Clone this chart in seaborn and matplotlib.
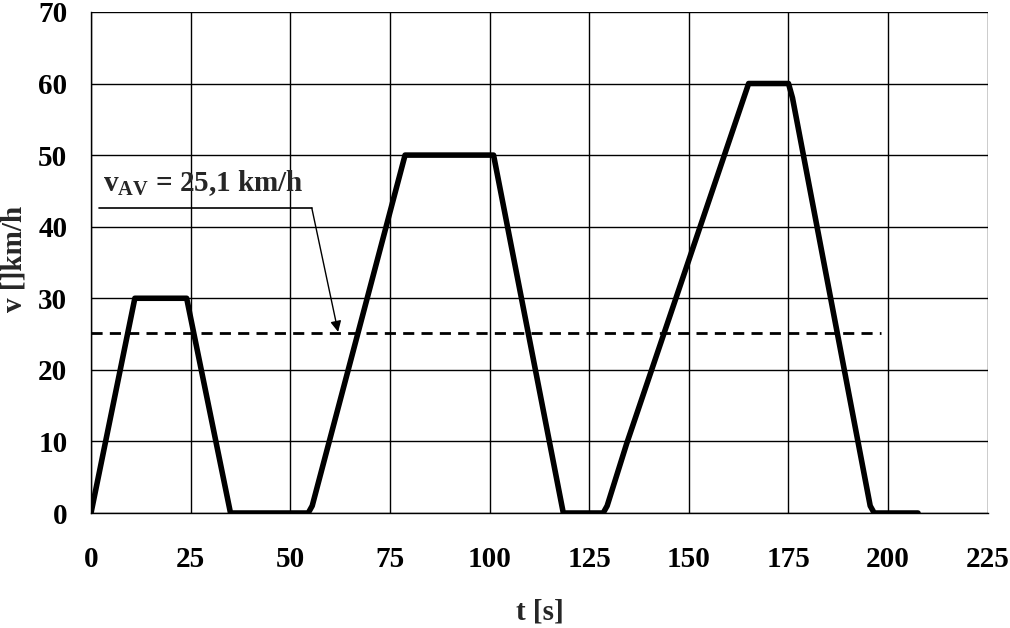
import matplotlib.pyplot as plt
import pandas as pd
import seaborn as sns

# speed profile
time_s = [0, 11, 24, 35, 54.5, 55.5, 78.8, 101, 118.5, 128.5, 129.5, 134.4,
          165, 175, 176, 195.5, 196.5, 207.5]
speed_kmh = [0, 30, 30, 0, 0, 1, 50, 50, 0, 0, 1, 9.7, 60, 60, 58, 1, 0, 0]

# average speed line
avg_time = [0, 198.3]
avg_speed = [25.1, 25.1]
avg_label = "25,1 km/h"

x_ticks = [0, 25, 50, 75, 100, 125, 150, 175, 200, 225]
y_ticks = [0, 10, 20, 30, 40, 50, 60, 70]

sns.set_style("white")
plt.rcParams["font.family"] = ["Liberation Serif", "DejaVu Serif"]
plt.rcParams["font.weight"] = "bold"
plt.rcParams["mathtext.fontset"] = "custom"
plt.rcParams["mathtext.rm"] = "Liberation Serif:bold"
plt.rcParams["mathtext.bf"] = "Liberation Serif:bold"
plt.rcParams["mathtext.it"] = "Liberation Serif:bold"

fig = plt.figure(figsize=(10.1, 6.28), dpi=100)
ax = fig.add_axes([0.0901, 0.1831, 0.978 - 0.0901, 0.981 - 0.1831])

profile = pd.DataFrame({"t": time_s, "v": speed_kmh})
average = pd.DataFrame({"t": avg_time, "v": avg_speed})

sns.lineplot(data=profile, x="t", y="v", ax=ax, color="black", linewidth=4.0,
             sort=False, estimator=None, zorder=4)
sns.lineplot(data=average, x="t", y="v", ax=ax, color="black", linewidth=2.0,
             linestyle=(0, (4, 2.6)), estimator=None, zorder=3)

ax.set_xlim(0, 225)
ax.set_ylim(0, 70)
ax.set_xticks(x_ticks)
ax.set_yticks(y_ticks)
ax.grid(True, color="black", linewidth=1.0)
ax.set_axisbelow(True)
for side in ["top", "right"]:
    ax.spines[side].set_visible(False)
for side in ["left", "bottom"]:
    ax.spines[side].set_color("black")
    ax.spines[side].set_linewidth(1.0)

ax.tick_params(axis="both", direction="out", length=8, width=1.0,
               colors="black", labelsize=21, pad=9)
ax.tick_params(axis="x", pad=16)
for lbl in ax.get_xticklabels() + ax.get_yticklabels():
    lbl.set_fontweight("bold")

ax.set_xlabel("t [s]", fontsize=21, fontweight="bold", labelpad=18)
ax.set_ylabel("v []km/h", fontsize=21, fontweight="bold")
ax.yaxis.set_label_coords(-0.0713, 0.507)

# annotation with underline and arrow
ax.text(3, 44.0, r"v$_{\mathrm{AV}}$ = " + avg_label, fontsize=21,
        fontweight="bold", ha="left", va="bottom")
ax.plot([2, 55.4], [42.6, 42.6], color="black", linewidth=1.2, zorder=5)
ax.annotate("", xy=(62, 25.3), xytext=(55.4, 42.6),
            arrowprops=dict(arrowstyle="-|>", color="black", lw=1.0,
                            mutation_scale=16, shrinkA=0, shrinkB=0),
            zorder=5)

fig.savefig("out.png", dpi=100)
